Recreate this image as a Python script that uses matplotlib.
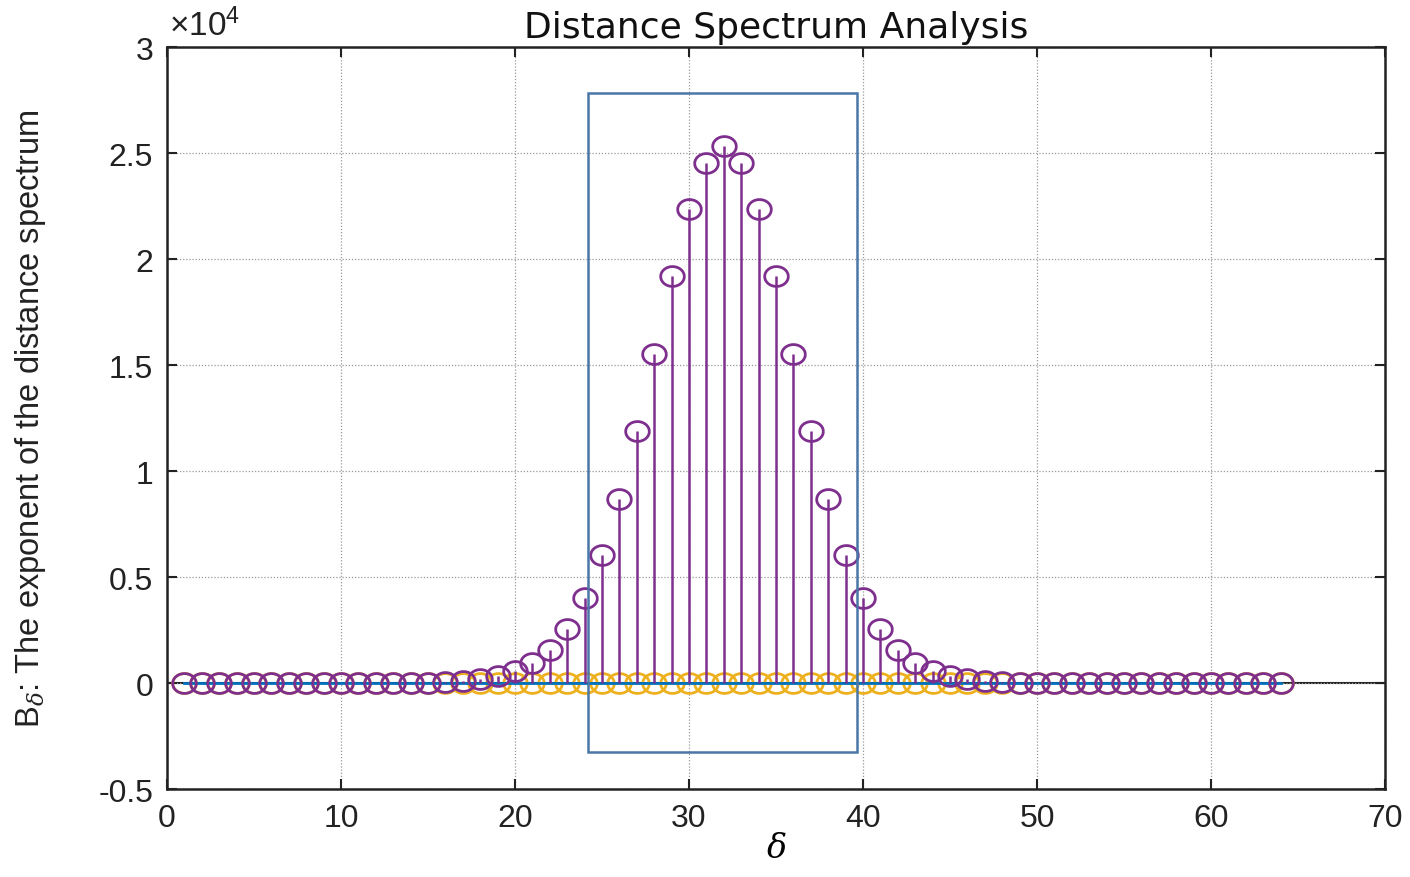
import numpy as np
import matplotlib
matplotlib.use("Agg")
import matplotlib.pyplot as plt
from matplotlib.path import Path
from matplotlib.patches import Rectangle
from matplotlib.ticker import FixedLocator, FuncFormatter

# ---- data ----
delta = list(range(1, 65))
half = [0, 0, 0, 0, 0, 0, 0, 0, 0, 0, 0, 0, 0, 5, 15, 40,
        95, 190, 330, 565, 942, 1554, 2544, 4004, 6030, 8667,
        11870, 15540, 19220, 22370, 24540, 25340]
spectrum = half + half[-2::-1] + [0]   # values for delta = 1..64
spectrum = spectrum[:64]
second_series = [0] * 64
rect_x = [24.2, 39.65]
rect_y = [-3250, 27830]
x_ticks = [0, 10, 20, 30, 40, 50, 60, 70]
y_ticks = [-5000, 0, 5000, 10000, 15000, 20000, 25000, 30000]

purple = "#7E2F8E"
orange = "#EDB120"
blue = "#0072BD"
rect_col = "#4A77A8"

plt.rcParams['font.family'] = ['Liberation Sans', 'DejaVu Sans']
plt.rcParams['mathtext.fontset'] = 'custom'
plt.rcParams['mathtext.it'] = 'DejaVu Serif:italic'
plt.rcParams['mathtext.rm'] = 'Liberation Sans'

fig = plt.figure(figsize=(14.1, 8.78), dpi=100)
ax = fig.add_axes([0.1184, 0.1002, 0.8639, 0.8451])

# ellipse marker
t = np.linspace(0, 2 * np.pi, 60)
ell = Path(np.column_stack([np.cos(t), 0.84 * np.sin(t)]))

ax.axhline(0, color="#222222", lw=1.5, zorder=1)
# orange series
ax.vlines(delta, 0, second_series, color=orange, lw=1.8, zorder=2)
ax.plot(delta, second_series, ls='none', marker=ell, ms=17, mfc='none',
        mec=orange, mew=2.0, zorder=3)
ax.plot(delta, second_series, color=blue, lw=2.0, zorder=3.5)
# purple series
ax.vlines(delta, 0, spectrum, color=purple, lw=1.8, zorder=4)
ax.plot(delta, spectrum, ls='none', marker=ell, ms=17, mfc='none',
        mec=purple, mew=2.0, zorder=5)

ax.add_patch(Rectangle((rect_x[0], rect_y[0]), rect_x[1] - rect_x[0],
                       rect_y[1] - rect_y[0], fill=False, ec=rect_col,
                       lw=1.8, zorder=6))

ax.set_xlim(0, 70)
ax.set_ylim(-5000, 30000)
ax.xaxis.set_major_locator(FixedLocator(x_ticks))
ax.yaxis.set_major_locator(FixedLocator(y_ticks))
ax.yaxis.set_major_formatter(FuncFormatter(lambda v, p: ('%g' % (v / 1e4))))
ax.grid(True, ls=(0, (1, 1.5)), color='#999999', lw=0.9)
ax.tick_params(direction='in', length=7, width=1.5, top=True, right=True,
               labelsize=23, pad=10, colors='#222222')
for s in ax.spines.values():
    s.set_linewidth(1.8)
    s.set_color('#222222')

ax.set_title("Distance Spectrum Analysis", fontsize=26, pad=7,
             color='#111111', family='DejaVu Sans')
ax.text(0.002, 1.006, "\u00d710$^{4}$", transform=ax.transAxes, fontsize=24,
        ha='left', va='bottom', color='#222222')
ax.set_xlabel(r"$\delta$", fontsize=24, labelpad=0)
ax.set_ylabel(r"B$_{\delta}$: The exponent of the distance spectrum",
              fontsize=23.5, color='#222222')
ax.yaxis.set_label_coords(-0.098, 0.5)

fig.savefig("out.png", dpi=100)
